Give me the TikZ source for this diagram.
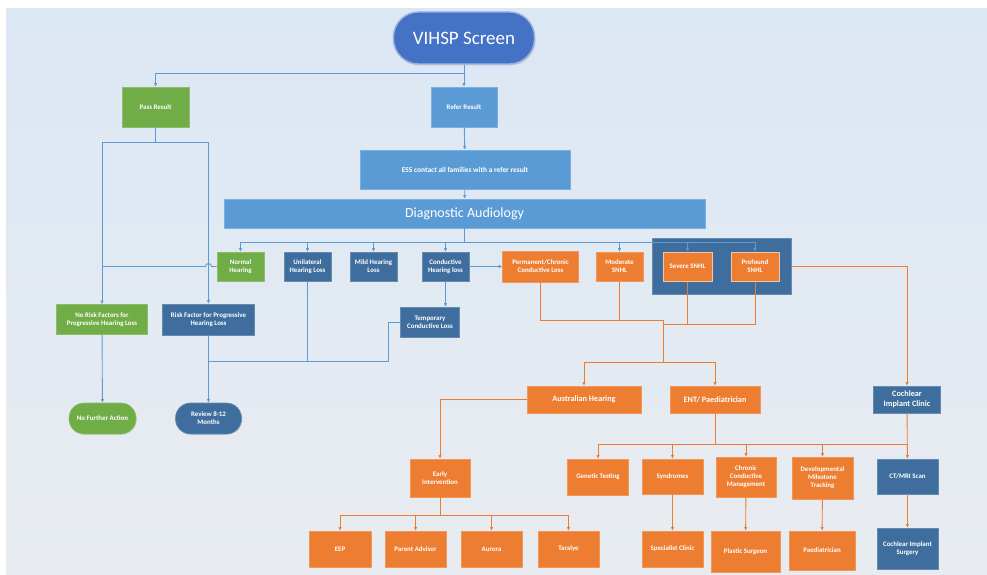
\documentclass[tikz,border=0pt]{standalone}
\usepackage{fontspec}
\setmainfont{Carlito}
\usetikzlibrary{arrows.meta,shadows}

\definecolor{cgreen}{RGB}{112,173,71}
\definecolor{clight}{RGB}{91,155,213}
\definecolor{cdark}{RGB}{63,110,158}
\definecolor{corange}{RGB}{237,125,49}
\definecolor{cvihsp}{RGB}{68,114,196}
\definecolor{cline}{RGB}{91,155,213}
\definecolor{bgtop}{RGB}{220,231,244}
\definecolor{bgbot}{RGB}{232,236,240}

\tikzset{
  base/.style={rectangle, text=white, align=center, inner sep=1pt,
    font=\bfseries\fontsize{6.9}{8}\selectfont, line width=0.6pt,
    drop shadow={opacity=0.18, shadow xshift=0.8pt, shadow yshift=-0.8pt}},
  gbox/.style={base, fill=cgreen, draw=cgreen!80!white},
  lbox/.style={base, fill=clight, draw=clight!80!white},
  dbox/.style={base, fill=cdark, draw=cdark!80!white},
  obox/.style={base, fill=corange, draw=corange!80!white},
  bigtext/.style={font=\bfseries\fontsize{8.2}{9.6}\selectfont},
  pill/.style={rounded corners=15pt},
  sz/.style 2 args={minimum width=#1pt, minimum height=#2pt},
  bline/.style={draw=cline, line width=0.9pt},
  bconn/.style={bline, -{Latex[length=3.6pt,width=3.4pt]}},
  oline/.style={draw=corange, line width=0.9pt},
  oconn/.style={oline, -{Latex[length=3.6pt,width=3.4pt]}},
}

\begin{document}
\begin{tikzpicture}[x=1pt,y=-1pt]
\useasboundingbox (0,0) rectangle (987,575);
\fill[white] (0,0) rectangle (987,575);
\fill[top color=bgtop, bottom color=bgbot] (6,9) rectangle (987,575);

% screening stage
\node[text=white, fill=cvihsp, draw=cvihsp!55!white, line width=1.4pt,
      rounded corners=25pt, sz={141}{52}, font=\fontsize{19}{22}\selectfont,
      drop shadow={opacity=0.25, shadow xshift=1pt, shadow yshift=-1.5pt}]
      (vihsp) at (464,38) {VIHSP Screen};
\node[gbox, sz={67}{40}] (pass) at (155.5,107) {Pass Result};
\node[lbox, sz={66}{40}] (refer) at (464,107) {Refer Result};
\node[lbox, sz={210}{39}, font=\bfseries\fontsize{7.4}{9}\selectfont] (ess) at (465,169.5) {ESS contact all families with a refer result};
\node[lbox, sz={481}{29}, font=\fontsize{14}{16}\selectfont] (diag) at (464.5,213.5) {Diagnostic Audiology};

% diagnostic outcomes
\node[dbox, sz={139}{56}, drop shadow={opacity=0}] (snhlgroup) at (721.5,266) {};
\node[gbox, sz={47}{29}] (normal) at (240.5,266.5) {Normal\\Hearing};
\node[dbox, sz={47}{29}] (unilat) at (307.5,266.5) {Unilateral\\Hearing Loss};
\node[dbox, sz={47}{29}] (mild) at (373.5,266.5) {Mild Hearing\\Loss};
\node[dbox, sz={47}{29}] (cond) at (445.5,266.5) {Conductive\\Hearing loss};
\node[obox, sz={76}{31}] (perm) at (540.5,266.5) {Permanent/Chronic\\Conductive Loss};
\node[obox, sz={47}{29}] (moder) at (619.5,266.5) {Moderate\\SNHL};
\node[obox, sz={49}{29}, draw=corange!45!white, line width=1pt] (severe) at (687.5,266.5) {Severe SNHL};
\node[obox, sz={48}{29}, draw=corange!45!white, line width=1pt] (prof) at (755,266.5) {Profound\\SNHL};

\node[dbox, sz={59}{30}] (temp) at (430,322) {Temporary\\Conductive Loss};
\node[gbox, sz={91}{30}] (norisk) at (102,319.5) {No Risk Factors for\\Progressive Hearing Loss};
\node[dbox, sz={92}{31}] (risk) at (208.5,319.5) {Risk Factor for Progressive\\Hearing Loss};
\node[gbox, pill, sz={67}{31}] (nfa) at (102.5,418.5) {No Further Action};
\node[dbox, pill, sz={66}{31}] (review) at (208.5,418.5) {Review 8-12\\Months};

% referral services
\node[obox, bigtext, sz={114}{27}] (aus) at (584,399.5) {Australian Hearing};
\node[obox, bigtext, sz={90}{27}] (ent) at (715,399.5) {ENT/ Paediatrician};
\node[dbox, bigtext, sz={67}{27}] (cic) at (907,399.5) {Cochlear\\Implant Clinic};

\node[obox, sz={60}{38}] (ei) at (440,478) {Early\\Intervention};
\node[obox, sz={61}{36}] (gen) at (598,477) {Genetic Testing};
\node[obox, sz={61}{35}] (syn) at (672.5,476.5) {Syndromes};
\node[obox, sz={60}{40}] (ccm) at (746,477) {Chronic\\Conductive\\Management};
\node[obox, sz={61}{42}] (dmt) at (822.5,478) {Developmental\\Milestone\\Tracking};
\node[dbox, sz={61}{35}] (ct) at (907.5,476.5) {CT/MRI Scan};

\node[obox, sz={62}{36}] (eep) at (340,549) {EEP};
\node[obox, sz={61}{36}] (pa) at (415.5,549) {Parent Advisor};
\node[obox, sz={61}{36}] (aur) at (491.5,549) {Aurora};
\node[obox, sz={61}{36}] (tar) at (568.5,549) {Taralye};
\node[obox, sz={61}{36}] (spc) at (672.5,549) {Specialist Clinic};
\node[obox, sz={69}{41}] (pls) at (745.5,551.5) {Plastic Surgeon};
\node[obox, sz={66}{39}] (paed) at (822,550.5) {Paediatrician};
\node[dbox, sz={61}{41}] (cis) at (907.5,548.5) {Cochlear Implant\\Surgery};

% junction points
\coordinate (j1) at (464,73);
\coordinate (j2) at (155.5,142);
\coordinate (j3) at (464.5,242);
\coordinate (j4) at (208.5,361);
\coordinate (j5) at (663,320);
\coordinate (j6) at (663,324);
\coordinate (j7) at (663,362);
\coordinate (j8) at (715,444);
\coordinate (j9) at (440,515);

% blue connectors
\draw[bconn] (vihsp) -- (refer);
\draw[bconn] (j1) -| (pass);
\draw[bconn] (refer) -- (ess);
\draw[bconn] (ess) -- (diag);
\draw[bline] (pass) -- (j2);
\draw[bconn] (j2) -| (norisk);
\draw[bconn] (j2) -| (risk);
\draw[bline] (diag) -- (j3);
\foreach \n in {normal,unilat,mild,cond,moder,severe,prof}
  \draw[bconn] (j3) -| (\n);
\draw[bline] (normal.west) -- ([xshift=3pt]normal.west -| risk.north)
  arc[start angle=0, end angle=180, radius=3pt] -- (normal.west -| norisk.north);
\draw[bconn] (cond) -- (perm);
\draw[bconn] (cond.south) -- (cond.south |- temp.north);
\draw[bline] (temp.west) -- ++(-12,0) |- (j4);
\draw[bline] (unilat) -- (unilat |- j4);
\draw[bconn] (risk) -- (review);
\draw[bconn] (norisk) -- (nfa);

% orange connectors
\draw[oconn] (snhlgroup.east) -| (cic);
\draw[oline] (perm) |- (j5);
\draw[oline] (moder) -- (moder |- j5);
\draw[oline] (severe) |- (j6);
\draw[oline] (prof) |- (j6);
\draw[oline] (j5) -- (j7);
\draw[oconn] (j7) -| (aus);
\draw[oconn] (j7) -| (ent);
\draw[oconn] (aus) -| (ei);
\draw[oline] (ent) -- (j8);
\foreach \n in {gen,syn,ccm,dmt}
  \draw[oconn] (j8) -| (\n);
\draw[oline] (j8) -- (j8 -| ct);
\draw[oconn] (cic) -- (ct);
\draw[oline] (ei) -- (j9);
\foreach \n in {eep,pa,aur,tar}
  \draw[oconn] (j9) -| (\n);
\draw[oconn] (syn) -- (spc);
\draw[oconn] (ccm) -- (pls);
\draw[oconn] (dmt) -- (paed);
\draw[oconn] (ct) -- (cis);
\end{tikzpicture}
\end{document}
